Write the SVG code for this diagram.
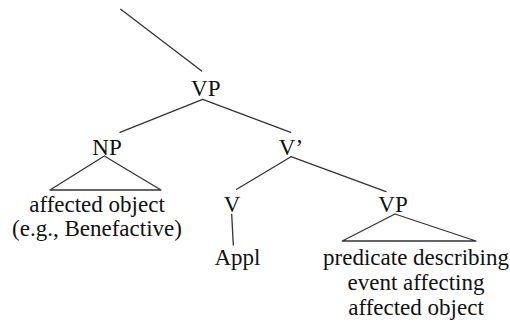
<svg xmlns="http://www.w3.org/2000/svg" width="510" height="322" viewBox="0 0 510 322">
<style>
text{font-family:"Liberation Serif","Times New Roman",serif;font-size:23px;fill:#111;text-anchor:middle}
.e{stroke:#333;stroke-width:1.3;fill:none;stroke-linecap:round;stroke-linejoin:round}
</style>
<rect width="510" height="322" fill="#fff"/>
<g id="connectors">
<line class="e" x1="120.7" y1="9.3" x2="201.7" y2="71"/>
<line class="e" x1="202.7" y1="99.3" x2="120" y2="132.3"/>
<line class="e" x1="202.7" y1="99.3" x2="290.7" y2="132.3"/>
<polygon class="e" points="104.3,156 50,190 161,190"/>
<line class="e" x1="291" y1="156.7" x2="236.7" y2="189.3"/>
<line class="e" x1="291" y1="156.7" x2="386" y2="191.7"/>
<line class="e" x1="231.7" y1="214.3" x2="233.3" y2="245"/>
<polygon class="e" points="395,214 342.3,241 476,241"/>
</g>
<g id="vp-top"><text x="205.8" y="96">VP</text></g>
<g id="np"><text x="107" y="155">NP</text></g>
<g id="vbar"><text x="291" y="155">V’</text></g>
<g id="np-content"><text x="97" y="211.5">affected object</text><text x="97" y="236">(e.g., Benefactive)</text></g>
<g id="v"><text x="232" y="211.5">V</text></g>
<g id="vp-low"><text x="393" y="211.5">VP</text></g>
<g id="appl"><text x="237.5" y="265">Appl</text></g>
<g id="vp-content"><text x="416" y="265">predicate describing</text><text x="416" y="290">event affecting</text><text x="416" y="315">affected object</text></g>
</svg>
